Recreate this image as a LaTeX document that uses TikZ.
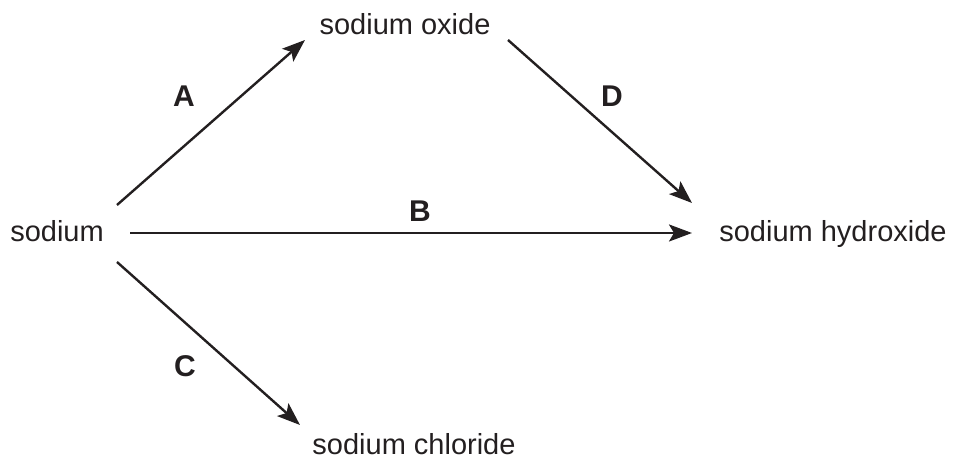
\documentclass[tikz,border=0pt]{standalone}
\usepackage{fontspec}
\setmainfont{Liberation Sans}
\usetikzlibrary{arrows.meta,calc}
\definecolor{ink}{HTML}{231F20}
\begin{document}
\begin{tikzpicture}[x=1pt,y=1pt,
  lbl/.style={anchor=base,inner sep=0pt,text=ink,font=\fontsize{29}{34}\selectfont},
  letter/.style={anchor=base,inner sep=0pt,text=ink,font=\fontsize{30}{34}\selectfont\bfseries},
  arr/.style={draw=ink,line width=2.4pt,-{Stealth[length=23pt,width=17pt,inset=5pt]}}]
\useasboundingbox (0,0) rectangle (955,460);
\node[lbl] (sodium) at (57,218) {sodium};
\node[lbl] (oxide) at (405,425) {sodium oxide};
\node[lbl] (hydroxide) at (833,218) {sodium hydroxide};
\node[lbl] (chloride) at (414,5) {sodium chloride};
\node[letter] (A) at (184,353) {A};
\node[letter] (D) at (612,353) {D};
\node[letter] (B) at (420,238) {B};
\node[letter] (C) at (185,83) {C};
\draw[arr] ($(sodium.base)+(60,37)$) -- ($(oxide.base)+(-100,-5)$);
\draw[arr] ($(oxide.base)+(103,-5)$) -- ($(hydroxide.base)+(-141,39)$);
\draw[arr] ($(sodium.base)+(73,9)$) -- ($(hydroxide.base)+(-141,9)$);
\draw[arr] ($(sodium.base)+(60,-20)$) -- ($(chloride.base)+(-114,30)$);
\end{tikzpicture}
\end{document}
